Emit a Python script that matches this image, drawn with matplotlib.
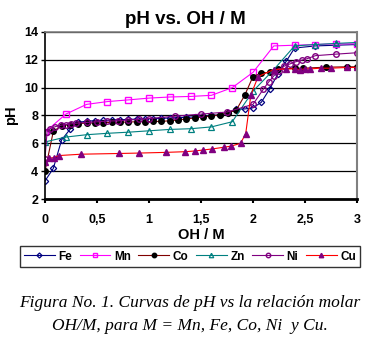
import numpy as np
import matplotlib.pyplot as plt

# Data
x_fe = [0, 0.08, 0.16, 0.24, 0.32, 0.40, 0.48, 0.56, 0.64, 0.72, 0.80, 0.88, 0.96,
        1.04, 1.12, 1.20, 1.28, 1.36, 1.44, 1.52, 1.60, 1.68, 1.76, 1.84, 1.92,
        2.00, 2.08, 2.16, 2.24, 2.32, 2.40, 2.6, 2.8, 3.0]
y_fe = [3.3, 4.2, 6.25, 7.0, 7.5, 7.6, 7.62, 7.65, 7.67, 7.7, 7.72, 7.74, 7.76,
        7.78, 7.8, 7.82, 7.85, 7.87, 7.9, 7.95, 8.0, 8.05, 8.15, 8.45, 8.47,
        8.55, 8.95, 9.9, 11.0, 11.9, 12.85, 13.0, 13.05, 13.1]

x_mn = [0, 0.2, 0.4, 0.6, 0.8, 1.0, 1.2, 1.4, 1.6, 1.8, 2.0, 2.2, 2.4, 2.6, 2.8, 3.0]
y_mn = [6.8, 8.1, 8.8, 9.0, 9.12, 9.25, 9.33, 9.37, 9.45, 10.0, 11.1, 13.0, 13.05,
        13.1, 13.15, 13.15]

x_co = [0, 0.08, 0.16, 0.24, 0.32, 0.40, 0.48, 0.56, 0.64, 0.72, 0.80, 0.88, 0.96,
        1.04, 1.12, 1.20, 1.28, 1.36, 1.44, 1.52, 1.60, 1.68, 1.76, 1.84, 1.92,
        2.0, 2.08, 2.16, 2.24, 2.4, 2.48, 2.7, 2.9, 3.0]
y_co = [4.0, 6.86, 7.27, 7.34, 7.42, 7.45, 7.46, 7.48, 7.5, 7.52, 7.53, 7.55, 7.56,
        7.57, 7.58, 7.62, 7.68, 7.75, 7.82, 7.9, 7.97, 8.05, 8.2, 8.4, 9.45,
        10.8, 11.05, 11.1, 11.35, 11.38, 11.4, 11.47, 11.5, 11.5]

x_zn = [0, 0.2, 0.4, 0.6, 0.8, 1.0, 1.2, 1.4, 1.6, 1.8, 2.0, 2.2, 2.4, 2.6, 2.8, 3.0]
y_zn = [6.1, 6.45, 6.62, 6.72, 6.8, 6.9, 7.0, 7.05, 7.18, 7.55, 9.75, 11.3, 13.0,
        13.1, 13.18, 13.25]

x_ni = [0, 0.02, 0.05, 0.1, 0.15, 0.2, 0.25, 0.3, 0.4, 0.5, 0.6, 0.7, 0.8, 0.9,
        1.0, 1.25, 1.5, 1.75, 2.0, 2.1, 2.15, 2.2, 2.25, 2.3, 2.36, 2.41, 2.47,
        2.52, 2.6, 2.8, 3.0]
y_ni = [4.9, 6.85, 7.05, 7.2, 7.3, 7.35, 7.4, 7.45, 7.5, 7.55, 7.6, 7.62, 7.68, 7.72,
        7.78, 7.95, 8.1, 8.25, 8.8, 9.9, 10.4, 10.85, 11.2, 11.55, 11.72, 11.86, 11.98,
        12.08, 12.3, 12.41, 12.51]

x_cu = [0, 0.04, 0.09, 0.13, 0.35, 0.71, 0.9, 1.16, 1.35, 1.44, 1.52, 1.61, 1.72,
        1.79, 1.88, 1.93, 1.98, 2.05, 2.2, 2.32, 2.4, 2.45, 2.5, 2.55, 2.65, 2.75,
        2.9, 3.0]
y_cu = [4.65, 4.93, 4.98, 5.12, 5.22, 5.27, 5.3, 5.35, 5.4, 5.45, 5.52, 5.6, 5.72,
        5.8, 6.0, 6.7, 9.5, 10.8, 11.3, 11.35, 11.35, 11.3, 11.35, 11.35, 11.4, 11.4,
        11.45, 11.45]

x_ticks = [0, 0.5, 1, 1.5, 2, 2.5, 3]
x_tick_labels = ['0', '0,5', '1', '1,5', '2', '2,5', '3']
y_ticks = [2, 4, 6, 8, 10, 12, 14]

plt.rcParams['font.family'] = ['Liberation Sans', 'DejaVu Sans']

fig = plt.figure(figsize=(3.76, 3.43), dpi=100)
ax = fig.add_axes([45 / 376, 1 - 199 / 343, 312 / 376, 167 / 343])

lw = 0.8
ms = 4
ax.plot(x_fe, y_fe, color='#000080', lw=lw, marker='D', ms=3.2, mfc='none',
        mec='#000080', mew=0.9, label='Fe')
ax.plot(x_mn, y_mn, color='#FF00FF', lw=lw, marker='s', ms=ms, mfc='none',
        mec='#FF00FF', mew=1.0, label='Mn')
ax.plot(x_co, y_co, color='#800000', lw=lw, marker='o', ms=ms, mfc='black',
        mec='black', label='Co')
ax.plot(x_zn, y_zn, color='#008080', lw=lw, marker='^', ms=ms, mfc='none',
        mec='#008080', mew=0.9, label='Zn')
ax.plot(x_ni, y_ni, color='#800080', lw=lw, marker='o', ms=ms, mfc='none',
        mec='#800080', mew=1.0, label='Ni')
ax.plot(x_cu, y_cu, color='#FF0000', lw=lw, marker='^', ms=ms, mfc='#800080',
        mec='#800080', label='Cu')

ax.set_xlim(0, 3)
ax.set_ylim(2, 14)
ax.set_xticks(x_ticks)
ax.set_xticklabels(x_tick_labels)
ax.set_yticks(y_ticks)
ax.yaxis.grid(True, color='black', lw=0.9)
ax.set_axisbelow(True)

for lab in ax.get_xticklabels() + ax.get_yticklabels():
    lab.set_fontweight('bold')
    lab.set_fontsize(9)
ax.tick_params(axis='x', length=3, width=1.5, pad=8)
ax.tick_params(axis='y', length=3, width=1, pad=2)

ax.spines['left'].set_color('black')
ax.spines['left'].set_linewidth(1.2)
ax.spines['bottom'].set_color('black')
ax.spines['bottom'].set_linewidth(2)
ax.spines['top'].set_color('#808080')
ax.spines['right'].set_color('#808080')
ax.spines['top'].set_linewidth(1.2)
ax.spines['right'].set_linewidth(1.5)

ax.set_xlabel('OH / M', fontsize=10.5, fontweight='bold', labelpad=1)
ax.set_ylabel('pH', fontsize=10.5, fontweight='bold', labelpad=4)
fig.text(185 / 376, 1 - 20 / 343, 'pH vs. OH / M', ha='center', va='center',
         fontsize=13.5, fontweight='bold')

leg = fig.legend(loc='center', bbox_to_anchor=(190 / 376, 1 - 256.5 / 343), ncol=6,
                 frameon=True, fancybox=False, edgecolor='black',
                 handlelength=2.6, handletextpad=0.3, columnspacing=0.65,
                 borderpad=0.35, markerscale=0.8, prop={'weight': 'bold', 'size': 8.5})
leg.get_frame().set_linewidth(1.0)

cap_font = dict(family='Liberation Serif', style='italic', fontsize=12.5,
                ha='center', va='center')
fig.text(190 / 376, 1 - 303 / 343,
         'Figura No. 1. Curvas de pH vs la relación molar', **cap_font)
fig.text(190 / 376, 1 - 326 / 343,
         'OH/M, para M = Mn, Fe, Co, Ni  y Cu.', **cap_font)

fig.savefig('out.png', dpi=100)
